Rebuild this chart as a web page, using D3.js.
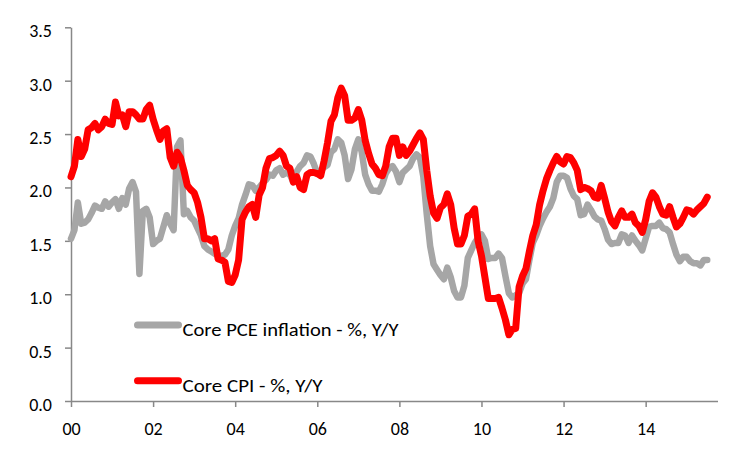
<!DOCTYPE html>
<html>
<head>
<meta charset="utf-8">
<script src="https://cdn.jsdelivr.net/npm/d3@7"></script>
<style>
  html, body { margin: 0; padding: 0; background: #fff; }
  svg text { font-family: Carlito, "Open Sans", "Liberation Sans", sans-serif; fill: #000; }
</style>
</head>
<body>
<svg id="chart" width="750" height="450"></svg>
<script>
// Monthly data, Jan 2000 .. Jul 2015
const startYear = 2000;
const corePCE = [
  1.52,1.60,1.86,1.66,1.67,1.70,1.76,1.83,1.81,1.80,1.87,1.82,
  1.86,1.89,1.80,1.90,1.84,1.99,2.05,1.96,1.19,1.78,1.80,1.72,
  1.47,1.50,1.52,1.63,1.74,1.66,1.60,2.38,2.44,1.75,1.78,1.72,
  1.69,1.62,1.55,1.45,1.42,1.40,1.38,1.36,1.36,1.37,1.42,1.55,
  1.64,1.71,1.84,1.93,2.03,2.02,1.97,2.00,2.04,2.07,2.12,2.11,
  2.16,2.18,2.12,2.14,2.12,2.05,2.15,2.20,2.23,2.30,2.29,2.22,
  2.13,2.16,2.19,2.21,2.33,2.36,2.45,2.42,2.30,2.08,2.17,2.36,
  2.45,2.33,2.12,2.03,1.97,1.97,1.96,2.03,2.13,2.18,2.20,2.15,
  2.05,2.14,2.17,2.20,2.27,2.31,2.28,2.10,1.75,1.45,1.28,1.23,
  1.18,1.14,1.25,1.16,1.03,0.97,0.97,1.08,1.34,1.41,1.48,1.53,
  1.56,1.50,1.33,1.34,1.34,1.38,1.34,1.17,1.01,0.97,0.99,1.01,
  1.10,1.14,1.32,1.48,1.55,1.64,1.71,1.77,1.82,1.90,2.05,2.11,
  2.11,2.09,1.99,1.92,1.89,1.74,1.75,1.84,1.79,1.73,1.70,1.69,
  1.61,1.51,1.47,1.48,1.48,1.56,1.55,1.48,1.55,1.50,1.46,1.41,
  1.52,1.63,1.64,1.64,1.67,1.62,1.61,1.58,1.47,1.37,1.31,1.35,
  1.35,1.31,1.29,1.29,1.27,1.32,1.32
];
const coreCPI = [
  2.10,2.20,2.45,2.29,2.36,2.54,2.56,2.60,2.54,2.57,2.64,2.60,
  2.59,2.80,2.67,2.68,2.57,2.71,2.71,2.68,2.64,2.64,2.73,2.77,
  2.64,2.54,2.45,2.53,2.55,2.28,2.20,2.33,2.28,2.16,2.02,1.98,
  1.95,1.86,1.72,1.52,1.52,1.50,1.52,1.33,1.32,1.30,1.12,1.11,
  1.18,1.32,1.70,1.77,1.82,1.84,1.72,1.93,2.00,2.18,2.27,2.28,
  2.30,2.34,2.30,2.20,2.18,2.05,2.10,2.00,1.98,2.12,2.14,2.14,
  2.13,2.11,2.25,2.42,2.62,2.68,2.84,2.93,2.86,2.63,2.63,2.65,
  2.73,2.63,2.44,2.32,2.22,2.18,2.12,2.11,2.20,2.38,2.46,2.46,
  2.30,2.38,2.30,2.34,2.40,2.46,2.51,2.45,2.16,1.92,1.76,1.71,
  1.81,1.84,1.94,1.84,1.62,1.47,1.47,1.55,1.73,1.75,1.80,1.50,
  1.36,1.16,0.96,0.96,0.96,0.97,0.87,0.76,0.62,0.67,0.68,1.07,
  1.17,1.24,1.40,1.55,1.65,1.84,1.97,2.08,2.16,2.23,2.29,2.24,
  2.22,2.29,2.28,2.23,2.16,1.98,2.00,1.99,1.97,1.91,1.90,2.02,
  1.90,1.77,1.68,1.64,1.72,1.78,1.72,1.72,1.75,1.67,1.64,1.58,
  1.70,1.87,1.95,1.91,1.82,1.75,1.74,1.82,1.72,1.63,1.66,1.72,
  1.79,1.78,1.75,1.79,1.82,1.85,1.91
];
const yTicks = [0, 0.5, 1.0, 1.5, 2.0, 2.5, 3.0, 3.5];
const xTickYears = [2000, 2002, 2004, 2006, 2008, 2010, 2012, 2014];
const seriesNames = ["Core PCE inflation - %, Y/Y", "Core CPI - %, Y/Y"];
const seriesColors = ["#a6a6a6", "#ff0000"];

const svg = d3.select("#chart");
const x = d3.scaleLinear().domain([0, 189]).range([71, 717.5]);
const y = d3.scaleLinear().domain([0, 3.5]).range([401, 27.3]);
const axisColor = "#888888";

// Y axis
const yAxis = d3.axisLeft(y).tickValues(yTicks).tickFormat(d3.format(".1f")).tickSize(6).tickSizeOuter(0);
const gy = svg.append("g").attr("transform", `translate(${x(0)},0)`).call(yAxis);
gy.select(".domain").attr("stroke", axisColor).attr("stroke-width", 1.5);
gy.selectAll(".tick line").attr("stroke", axisColor).attr("stroke-width", 1.5);
gy.selectAll(".tick text").attr("font-size", 18).attr("x", -19).attr("dy", 0).attr("y", 9.5);

// X axis
const xAxis = d3.axisBottom(x)
  .tickValues(xTickYears.map(yr => (yr - startYear) * 12))
  .tickFormat(m => String((startYear + m / 12) % 100).padStart(2, "0"))
  .tickSize(6).tickSizeOuter(0);
const gx = svg.append("g").attr("transform", `translate(0,${y(0)})`).call(xAxis);
gx.select(".domain").attr("stroke", axisColor).attr("stroke-width", 1.5);
gx.selectAll(".tick line").attr("stroke", axisColor).attr("stroke-width", 1.5);
gx.selectAll(".tick text").attr("font-size", 18).attr("dy", 0).attr("y", 34);

// Lines
const line = d3.line().x((d, i) => x(i)).y(d => y(d)).curve(d3.curveLinear);
[corePCE, coreCPI].forEach((data, k) => {
  svg.append("path")
    .datum(data)
    .attr("fill", "none")
    .attr("stroke", seriesColors[k])
    .attr("stroke-width", k === 0 ? 6.5 : 7)
    .attr("stroke-linejoin", "round")
    .attr("stroke-linecap", "round")
    .attr("d", line);
});

// Legend
const legendY = [325, 380.7];
const legendW = [216, 140];
seriesNames.forEach((name, k) => {
  svg.append("line")
    .attr("x1", 137.5).attr("x2", 178.5)
    .attr("y1", legendY[k]).attr("y2", legendY[k])
    .attr("stroke", seriesColors[k]).attr("stroke-width", 7)
    .attr("stroke-linecap", "round");
  svg.append("text")
    .attr("x", 182.5).attr("y", legendY[k] + 11)
    .attr("font-size", 18.5)
    .attr("textLength", legendW[k])
    .attr("lengthAdjust", "spacingAndGlyphs")
    .text(name);
});
</script>
</body>
</html>
